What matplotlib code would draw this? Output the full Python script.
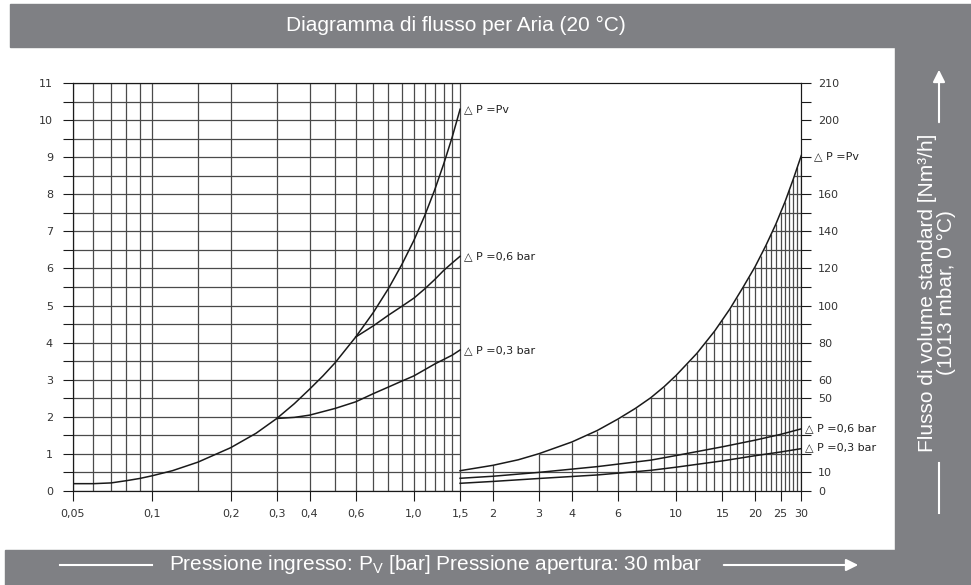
import matplotlib
matplotlib.use('Agg')
import matplotlib.pyplot as plt
import matplotlib.patches as mpatches
from matplotlib import font_manager
from matplotlib.ticker import NullLocator
import numpy as np

# --- dati ---
# parte sinistra (asse y sinistro, 0..11)
pv_l_x = [0.05, 0.06, 0.07, 0.08, 0.09, 0.1, 0.12, 0.15, 0.2, 0.25, 0.3, 0.35, 0.4,
          0.45, 0.5, 0.6, 0.7, 0.8, 0.9, 1.0, 1.1, 1.2, 1.3, 1.4, 1.5]
pv_l_y = [0.19, 0.19, 0.21, 0.27, 0.33, 0.40, 0.54, 0.77, 1.16, 1.55, 1.95, 2.35, 2.74,
          3.1, 3.45, 4.15, 4.81, 5.46, 6.11, 6.76, 7.43, 8.12, 8.83, 9.55, 10.3]
dp06_l_x = [0.6, 0.7, 0.8, 0.9, 1.0, 1.1, 1.2, 1.3, 1.4, 1.5]
dp06_l_y = [4.15, 4.45, 4.74, 4.98, 5.2, 5.45, 5.7, 5.95, 6.15, 6.33]
dp03_l_x = [0.3, 0.35, 0.4, 0.5, 0.6, 0.7, 0.8, 0.9, 1.0, 1.2, 1.4, 1.5]
dp03_l_y = [1.95, 1.98, 2.04, 2.22, 2.40, 2.62, 2.8, 2.96, 3.1, 3.42, 3.66, 3.8]

# parte destra (asse y destro, Nm3/h)
pv_r_x = [1.5, 2, 2.5, 3, 4, 5, 6, 7, 8, 9, 10, 12, 14, 16, 18, 20, 22, 24, 26, 28, 30]
pv_r_y = [10.8, 13.7, 16.7, 20.0, 26.3, 32.5, 38.7, 44.5, 50.2, 56.2, 62.3, 74.2, 86.1,
          98, 109.9, 121, 132.5, 144, 156, 168.5, 181]
dp06_r_x = [1.5, 2, 3, 5, 8, 10, 15, 20, 25, 30]
dp06_r_y = [6.7, 7.8, 9.9, 13.0, 16.5, 19, 23.7, 27.3, 30.4, 33.4]
dp03_r_x = [1.5, 2, 3, 5, 8, 10, 15, 20, 25, 30]
dp03_r_y = [4.0, 5.0, 6.6, 8.5, 11.0, 12.7, 16.1, 18.9, 20.9, 22.7]

x_ticks = [0.05, 0.1, 0.2, 0.3, 0.4, 0.6, 1.0, 1.5, 2, 3, 4, 6, 10, 15, 20, 25, 30]
x_labels = ['0,05', '0,1', '0,2', '0,3', '0,4', '0,6', '1,0', '1,5', '2', '3', '4',
            '6', '10', '15', '20', '25', '30']
grid_l_x = [0.05, 0.06, 0.07, 0.08, 0.09, 0.1, 0.15, 0.2, 0.3, 0.4, 0.5, 0.6, 0.7,
            0.8, 0.9, 1.0, 1.1, 1.2, 1.3, 1.4, 1.5]
grid_r_x = list(range(2, 31))
r_ticks = [0, 10, 50, 60, 80, 100, 120, 140, 160, 200, 220]
r_labels = ['0', '10', '50', '60', '80', '100', '120', '140', '160', '200', '210']

title = 'Diagramma di flusso per Aria (20 °C)'
ylabel_r = 'Flusso di volume standard [Nm³/h]\n(1013 mbar, 0 °C)'

GREY = '#7f8084'
INK = '#1a1a1a'
GRID = '#4a4a4a'

names = {f.name for f in font_manager.fontManager.ttflist}
band_font = 'Liberation Sans Narrow' if 'Liberation Sans Narrow' in names else 'Liberation Sans'
plt.rcParams['font.family'] = ['DejaVu Sans']
plt.rcParams['mathtext.fontset'] = 'custom'
plt.rcParams['mathtext.rm'] = band_font

fig = plt.figure(figsize=(9.71, 5.85), dpi=100)
fig.patch.set_facecolor('white')

# bande grigie
fig.patches.append(mpatches.Rectangle((10 / 971, 538 / 585), 961 / 971, 43 / 585,
                                      transform=fig.transFigure, color=GREY, zorder=0))
fig.patches.append(mpatches.Rectangle((895 / 971, 0), 76 / 971, 538 / 585,
                                      transform=fig.transFigure, color=GREY, zorder=0))
fig.patches.append(mpatches.Rectangle((5 / 971, 0), 966 / 971, 35 / 585,
                                      transform=fig.transFigure, color=GREY, zorder=0))

fig.text(456 / 971, 560 / 585, title, color='white', fontsize=15,
         family='Liberation Sans', ha='center', va='center')
fig.text(436 / 971, 20 / 585,
         r'Pressione ingresso: P$_\mathrm{V}$ [bar] Pressione apertura: 30 mbar',
         color='white', fontsize=15, family=band_font, ha='center', va='center')
fig.text(937 / 971, 292 / 585, ylabel_r, color='white', fontsize=15,
         family='Liberation Sans', rotation=90, ha='center', va='center',
         multialignment='center', linespacing=0.95)

# frecce bianche
fig.add_artist(plt.Line2D([60 / 971, 152 / 971], [20 / 585, 20 / 585],
                          transform=fig.transFigure, color='white', lw=1.5))
fig.add_artist(mpatches.FancyArrowPatch((721 / 971, 20 / 585), (861 / 971, 20 / 585),
                                        transform=fig.transFigure, arrowstyle='-|>',
                                        mutation_scale=18, color='white', lw=1.5))
fig.add_artist(plt.Line2D([939 / 971, 939 / 971], [72 / 585, 122 / 585],
                          transform=fig.transFigure, color='white', lw=1.5))
fig.add_artist(mpatches.FancyArrowPatch((939 / 971, 460 / 585), (939 / 971, 518 / 585),
                                        transform=fig.transFigure, arrowstyle='-|>',
                                        mutation_scale=18, color='white', lw=1.5))

ax = fig.add_axes([72.7 / 971, 94.3 / 585, 728.6 / 971, 407.4 / 585])
ax.set_facecolor('none')
ax.set_xscale('log')
ax.set_xlim(0.05, 30)
ax.set_ylim(0, 11)
ax2 = ax.twinx()
ax2.set_ylim(0, 220)

# griglia parte sinistra
ax.vlines(grid_l_x, 0, 11, color=GRID, lw=0.9, zorder=1)
ax.hlines(np.arange(0, 11.01, 0.5), 0.05, 1.5, color=GRID, lw=0.9, zorder=1)

# griglia parte destra: solo sotto la curva Pv
lx = np.log10(pv_r_x)
tops = np.interp(np.log10(grid_r_x), lx, pv_r_y)
ax2.vlines(grid_r_x, 0, tops, color=GRID, lw=0.9, zorder=1)
levels = np.arange(10, 180, 10)
starts = 10 ** np.interp(levels, pv_r_y, lx)
ax2.hlines(levels, starts, 30, color=GRID, lw=0.9, zorder=1)

# curve
ax.plot(pv_l_x, pv_l_y, color=INK, lw=1.1, zorder=3)
ax.plot(dp06_l_x, dp06_l_y, color=INK, lw=1.1, zorder=3)
ax.plot(dp03_l_x, dp03_l_y, color=INK, lw=1.1, zorder=3)
ax2.plot(pv_r_x, pv_r_y, color=INK, lw=1.1, zorder=3)
ax2.plot(dp06_r_x, dp06_r_y, color=INK, lw=1.1, zorder=3)
ax2.plot(dp03_r_x, dp03_r_y, color=INK, lw=1.1, zorder=3)

# assi
ax.xaxis.set_minor_locator(NullLocator())
ax.set_xticks(x_ticks, x_labels)
yt = np.arange(0, 11.01, 0.5)
ax.set_yticks(yt, [str(int(v)) if v == int(v) else '' for v in yt])
ax2.set_yticks(r_ticks, r_labels)
ax2.set_yticks(np.arange(0, 221, 10), minor=True)
ax.tick_params(axis='x', direction='out', length=7.2, width=0.8, pad=6,
               labelsize=8, colors=INK, labelcolor='#333333')
ax.tick_params(axis='y', direction='out', length=7.2, width=0.8, pad=7,
               labelsize=8, colors=INK, labelcolor='#333333')
ax2.tick_params(axis='y', which='both', direction='out', length=7.2, width=0.8, pad=5,
                labelsize=8, colors=INK, labelcolor='#333333')
for a in (ax, ax2):
    for s in a.spines.values():
        s.set_linewidth(0.8)
        s.set_color(INK)

# etichette delta P
ann = dict(textcoords='offset pixels', va='center', ha='left', fontsize=8, color='#222222')
ax.annotate('△ P =Pv', xy=(1.5, pv_l_y[-1]), xytext=(4, 0), **ann)
ax.annotate('△ P =0,6 bar', xy=(1.5, dp06_l_y[-1]), xytext=(4, 0), **ann)
ax.annotate('△ P =0,3 bar', xy=(1.5, dp03_l_y[-1]), xytext=(4, 0), **ann)
ax2.annotate('△ P =Pv', xy=(30, pv_r_y[-1]), xytext=(13, -1), **ann)
ax2.annotate('△ P =0,6 bar', xy=(30, dp06_r_y[-1]), xytext=(4, 1), **ann)
ax2.annotate('△ P =0,3 bar', xy=(30, dp03_r_y[-1]), xytext=(4, 1), **ann)

fig.savefig('out.png', dpi=100)
